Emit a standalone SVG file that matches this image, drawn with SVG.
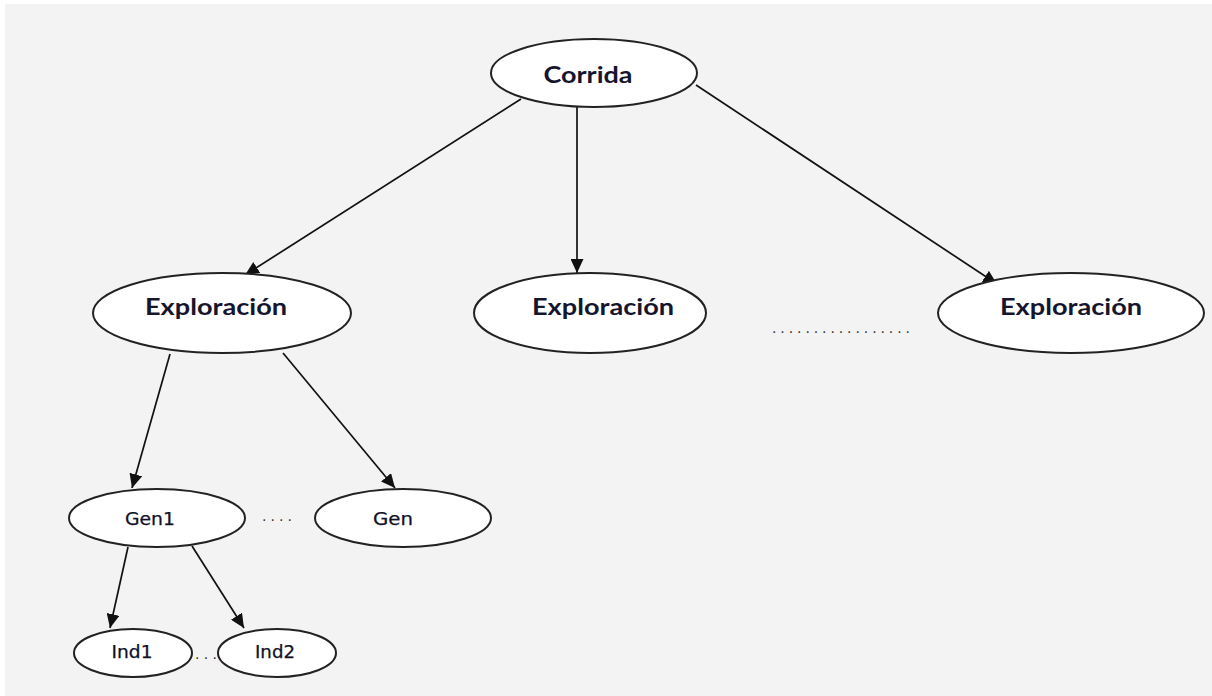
<svg xmlns="http://www.w3.org/2000/svg" width="1212" height="696" viewBox="0 0 1212 696">
  <defs>
    <marker id="arrow" markerUnits="userSpaceOnUse" markerWidth="15" markerHeight="13" refX="14" refY="6.5" orient="auto">
      <path d="M0,0 L14,6.5 L0,13 Z" fill="#111"/>
    </marker>
    <style>
      .node { fill: #ffffff; stroke: #222; stroke-width: 2; }
      .edge { stroke: #111; stroke-width: 1.7; fill: none; marker-end: url(#arrow); }
      .big { font-family: Lato, "Liberation Sans", sans-serif; font-weight: bold; font-size: 22px; fill: #15152e; text-anchor: middle; }
      .small { font-family: "DejaVu Sans", Verdana, sans-serif; font-size: 17px; fill: #101028; text-anchor: middle; stroke: #101028; stroke-width: 0.25; }
      .dots { font-family: "DejaVu Sans", sans-serif; font-size: 14px; fill: #333; }
    </style>
  </defs>

  <!-- page background -->
  <rect x="0" y="0" width="1212" height="696" fill="#ffffff"/>
  <rect x="5" y="4" width="1207" height="692" fill="#f3f3f3"/>

  <!-- connectors -->
  <g id="connectors">
    <line class="edge" x1="521" y1="99" x2="245" y2="275"/>
    <line class="edge" x1="577" y1="107" x2="577" y2="273"/>
    <line class="edge" x1="696" y1="85" x2="997" y2="284"/>
    <line class="edge" x1="170" y1="354" x2="132" y2="488"/>
    <line class="edge" x1="283" y1="353" x2="395" y2="488"/>
    <line class="edge" x1="128" y1="547" x2="110" y2="628"/>
    <line class="edge" x1="192" y1="546" x2="244" y2="628"/>
  </g>

  <g id="corrida">
    <ellipse class="node" cx="594" cy="73" rx="103" ry="34"/>
    <text class="big" x="588" y="83" textLength="89" lengthAdjust="spacingAndGlyphs">Corrida</text>
  </g>

  <g id="exploracion-1">
    <ellipse class="node" cx="222" cy="313" rx="129" ry="40"/>
    <text class="big" x="216" y="315" textLength="142" lengthAdjust="spacingAndGlyphs">Exploración</text>
  </g>

  <g id="exploracion-2">
    <ellipse class="node" cx="590" cy="313" rx="116" ry="40"/>
    <text class="big" x="603" y="315" textLength="142" lengthAdjust="spacingAndGlyphs">Exploración</text>
  </g>

  <g id="exploracion-n">
    <ellipse class="node" cx="1071" cy="313" rx="133" ry="40"/>
    <text class="big" x="1071" y="315" textLength="142" lengthAdjust="spacingAndGlyphs">Exploración</text>
  </g>

  <text class="dots" x="772" y="333" textLength="138" lengthAdjust="spacing">.................</text>

  <g id="gen1">
    <ellipse class="node" cx="157" cy="518" rx="88" ry="29"/>
    <text class="small" x="150" y="525" textLength="50" lengthAdjust="spacingAndGlyphs">Gen1</text>
  </g>

  <text class="dots" x="262" y="521" textLength="30" lengthAdjust="spacing">....</text>

  <g id="gen">
    <ellipse class="node" cx="403" cy="518" rx="88" ry="29"/>
    <text class="small" x="393" y="525" textLength="40" lengthAdjust="spacingAndGlyphs">Gen</text>
  </g>

  <g id="ind1">
    <ellipse class="node" cx="133" cy="653" rx="59" ry="24"/>
    <text class="small" x="132" y="658" textLength="41" lengthAdjust="spacingAndGlyphs">Ind1</text>
  </g>

  <text class="dots" x="195" y="659" textLength="22" lengthAdjust="spacing">...</text>

  <g id="ind2">
    <ellipse class="node" cx="277" cy="653" rx="59" ry="24"/>
    <text class="small" x="275" y="658" textLength="40" lengthAdjust="spacingAndGlyphs">Ind2</text>
  </g>
</svg>
